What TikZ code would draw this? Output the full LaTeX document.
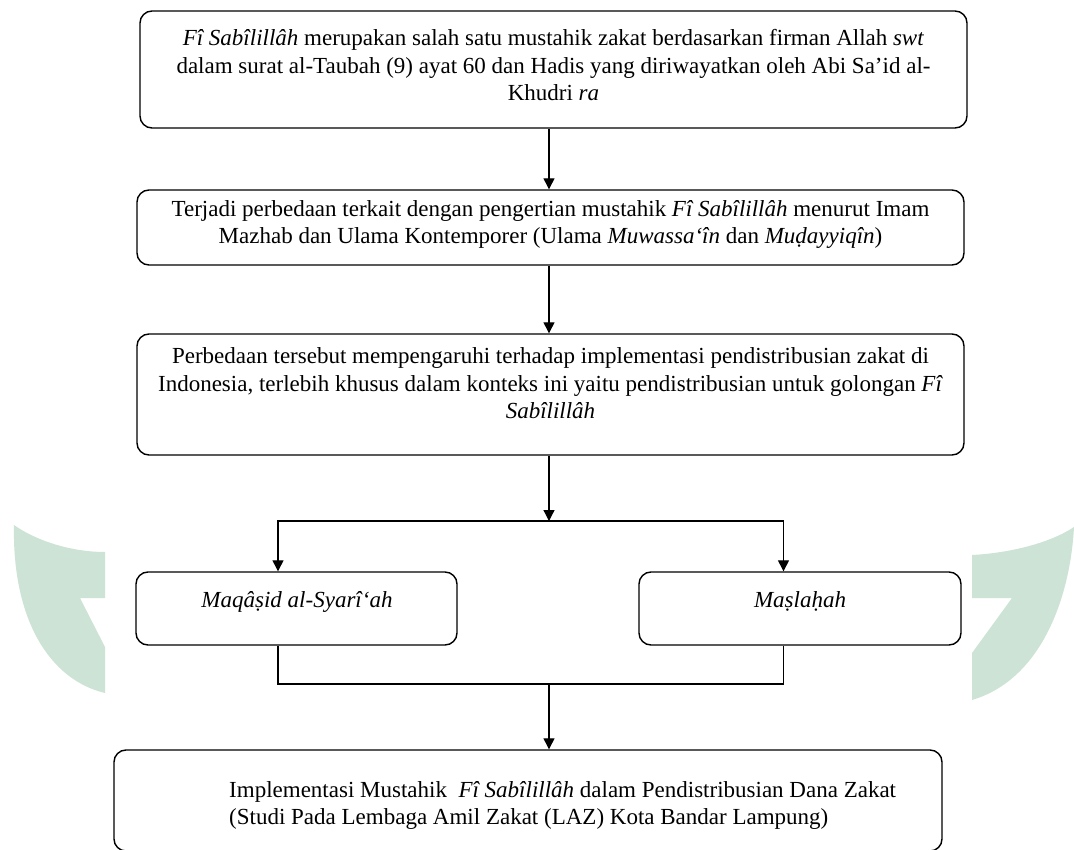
\documentclass[tikz,border=0pt]{standalone}
\usepackage{fontspec}
\setmainfont{Liberation Serif}
\usetikzlibrary{arrows.meta}
\definecolor{wm}{RGB}{205,227,214}
\begin{document}
\begin{tikzpicture}[x=1pt,y=-1pt,
  boxs/.style={draw, line width=1.4pt, rounded corners=12pt, inner sep=0pt},
  txt/.style={font=\fontsize{23}{27.5}\selectfont, align=center, inner sep=0pt},
  arr/.style={line width=1.3pt, -{Triangle[length=11pt,width=11pt]}},
  ln/.style={line width=1.3pt}]
\useasboundingbox (0,0) rectangle (1074,850);
% watermark shapes
\fill[wm] (14,525) .. controls (35,540) and (70,552) .. (105,552) -- (105,598) -- (80,598) -- (105,647) -- (105,693)
  .. controls (50,680) and (12,620) .. (14,525) -- cycle;
\fill[wm] (972,555) .. controls (1010,553) and (1050,543) .. (1074,527)
  .. controls (1070,600) and (1040,680) .. (972,700) -- (972,653) -- (1012,598) -- (972,598) -- cycle;
% boxes
\node[boxs, minimum width=827pt, minimum height=117pt] (b1) at (553.5,69.5) {};
\node[boxs, minimum width=827pt, minimum height=75pt] (b2) at (550.5,227.5) {};
\node[boxs, minimum width=827pt, minimum height=121pt] (b3) at (550.5,394.5) {};
\node[boxs, minimum width=321pt, minimum height=73pt] (b4) at (296.5,608.5) {};
\node[boxs, minimum width=322pt, minimum height=73pt] (b5) at (800,608.5) {};
\node[boxs, minimum width=828pt, minimum height=101pt] (b6) at (528,800.5) {};
% texts
\node[txt] (t1) at (553.5,65.5) {\textit{Fî Sabîlillâh} merupakan salah satu mustahik zakat berdasarkan firman Allah \textit{swt}\\ dalam surat al-Taubah (9) ayat 60 dan Hadis yang diriwayatkan oleh Abi Sa’id al-\\ Khudri \textit{ra}};
\node[txt] (t2) at (550.5,224.5) {Terjadi perbedaan terkait dengan pengertian mustahik \textit{Fî Sabîlillâh} menurut Imam\\ Mazhab dan Ulama Kontemporer (Ulama \textit{Muwassa‘în} dan \textit{Muḍayyiqîn})};
\node[txt] (t3) at (550.5,383.5) {Perbedaan tersebut mempengaruhi terhadap implementasi pendistribusian zakat di\\ Indonesia, terlebih khusus dalam konteks ini yaitu pendistribusian untuk golongan \textit{Fî}\\ \textit{Sabîlillâh}};
\node[txt] (t4) at (297,602) {\textit{Maqâṣid al-Syarî‘ah}};
\node[txt] (t5) at (800,601) {\textit{Maṣlaḥah}};
\node[txt, align=left, anchor=west] (t6) at (229,805.5) {Implementasi Mustahik \ \textit{Fî Sabîlillâh} dalam Pendistribusian Dana Zakat\\ (Studi Pada Lembaga Amil Zakat (LAZ) Kota Bandar Lampung)};
% connector coordinates
\coordinate (ax) at (549,0);
\coordinate (lx) at (278,0);
\coordinate (rx) at (783.5,0);
\coordinate (sp) at (549,521);
\coordinate (jn) at (549,684);
% connectors
\draw[arr] (b1.south -| ax) -- (b2.north -| ax);
\draw[arr] (b2.south -| ax) -- (b3.north -| ax);
\draw[arr] (b3.south -| ax) -- (sp);
\draw[arr] (sp) -- (sp -| lx) -- (b4.north -| lx);
\draw[arr] (sp) -- (sp -| rx) -- (b5.north -| rx);
\draw[ln] (b4.south -| lx) -- (jn -| lx) -- (jn);
\draw[ln] (b5.south -| rx) -- (jn -| rx) -- (jn);
\draw[arr] (jn) -- (b6.north -| ax);
\end{tikzpicture}
\end{document}
